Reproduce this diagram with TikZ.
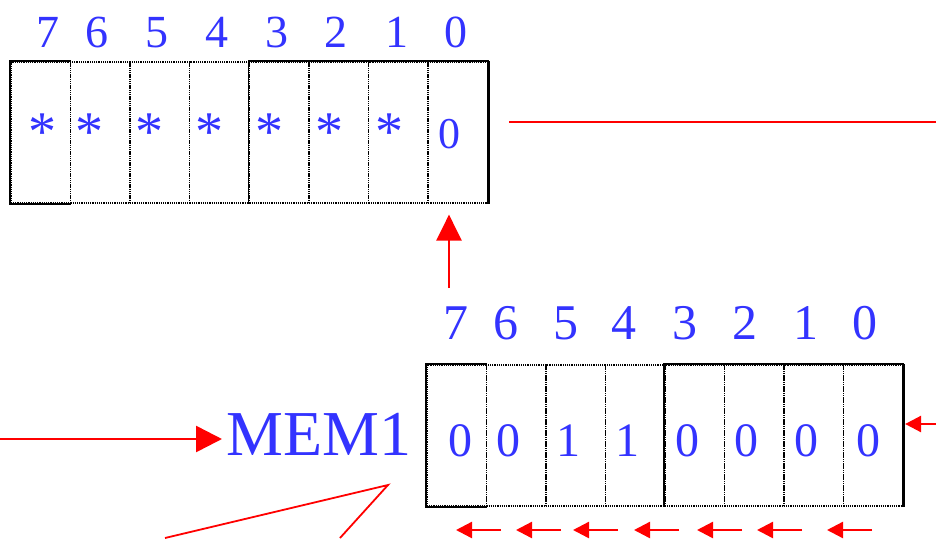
\documentclass[tikz,border=0pt]{standalone}
\usepackage{fontspec}
\setmainfont{Liberation Serif}
\usetikzlibrary{arrows.meta}
\definecolor{bitblue}{RGB}{51,51,255}
\definecolor{wirered}{RGB}{255,0,0}
\begin{document}
\begin{tikzpicture}[x=1pt,y=-1pt,
  bitcell/.style={draw=black, line width=1.6pt, dash pattern=on 1.2pt off 1pt,
    minimum height=141pt, inner sep=0pt, anchor=north west},
  solidedge/.style={draw=black, line width=1.8pt},
  heavyedge/.style={draw=black, line width=3pt},
  toplabel/.style={text=bitblue, font=\fontsize{46}{46}\selectfont, anchor=base, inner sep=0pt},
  topbit/.style={text=bitblue, font=\fontsize{44}{44}\selectfont, anchor=base, inner sep=0pt},
  topstar/.style={text=bitblue, font=\fontsize{56}{56}\selectfont, anchor=base, inner sep=0pt},
  lowlabel/.style={text=bitblue, font=\fontsize{50}{50}\selectfont, anchor=base, inner sep=0pt},
  lowbit/.style={text=bitblue, font=\fontsize{48}{48}\selectfont, anchor=base, inner sep=0pt},
  memlabel/.style={text=bitblue, font=\fontsize{64}{64}\selectfont, anchor=base west, inner sep=0pt},
  bigarrow/.style={draw=wirered, line width=2.6pt, -{Triangle[length=26pt,width=26pt]}},
  uparrow/.style={draw=wirered, line width=2.4pt, -{Triangle[length=26pt,width=25pt]}},
  smallarrow/.style={draw=wirered, line width=2.4pt, -{Triangle[length=16pt,width=16pt]}},
  redwire/.style={draw=wirered, line width=1.8pt},
]
\useasboundingbox (0,0) rectangle (936,538);

% ---- upper register ----
\foreach \k [count=\n from 0] in {7,6,5,4,3,2,1,0}{
  \node[bitcell, minimum width=59.6pt] (t\k) at ({10+\n*59.625},61) {};
}
\draw[solidedge] (t7.north east) -- (t7.north west) -- (t7.south west) -- (t7.south east);
\draw[solidedge] (t3.south west) -- (t3.north west) -- (t0.north east);
\draw[heavyedge] (t0.north east) -- (t0.south east);

\foreach \k/\x in {7/48,6/97,5/157,4/217,3/277,2/336,1/397,0/456}{
  \node[toplabel] (tl\k) at (\x,47) {\k};
}
\foreach \k/\x in {7/42,6/89,5/149,4/209,3/269,2/329,1/389}{
  \node[topstar] (tb\k) at (\x,150) {*};
}
\node[topbit] (tb0) at (449,148) {0};

% ---- lower register ----
\foreach \k [count=\n from 0] in {7,6,5,4,3,2,1,0}{
  \node[bitcell, minimum width=59.5pt] (b\k) at ({426+\n*59.5},364) {};
}
\draw[solidedge] (b7.north east) -- (b7.north west) -- (b7.south west) -- (b7.south east);
\draw[solidedge] (b3.south west) -- (b3.north west) -- (b0.north east);
\draw[heavyedge] (b0.north east) -- (b0.south east);

\foreach \k/\x in {7/456,6/506,5/566,4/624,3/685,2/745,1/806,0/865}{
  \node[lowlabel] (bl\k) at (\x,339) {\k};
}
\foreach \k/\x/\v in {7/460/0,6/508/0,5/568/1,4/627/1,3/687/0,2/746/0,1/806/0,0/868/0}{
  \node[lowbit] (bb\k) at (\x,456) {\v};
}

\node[memlabel] (mem) at (226,455) {MEM1};

% ---- connectors ----
\coordinate (upfoot) at (449,288);
\draw[uparrow, shorten >=11pt] (upfoot) -- (upfoot |- t0.south);

\coordinate (outL) at (509,122);
\coordinate (outR) at (936,122);
\draw[redwire] (outL) -- (outR);

\coordinate (inL) at (0,439);
\draw[bigarrow, shorten >=4pt] (inL) -- (mem.west |- inL);

\coordinate (inR) at (936,424);
\draw[smallarrow, line width=2.6pt, shorten >=1.5pt] (inR) -- (b0.east |- inR);

\coordinate (p1) at (165,538);
\coordinate (p2) at (388,485);
\coordinate (p3) at (340,538);
\draw[redwire, line join=miter] (p1) -- (p2) -- (p3);

\foreach \a/\b [count=\i] in {501/456,561/516,618/573,679/634,742/697,802/757,872/827}{
  \coordinate (sa\i) at (\a,530);
  \coordinate (sb\i) at (\b,530);
  \draw[smallarrow] (sa\i) -- (sb\i);
}
\end{tikzpicture}
\end{document}
